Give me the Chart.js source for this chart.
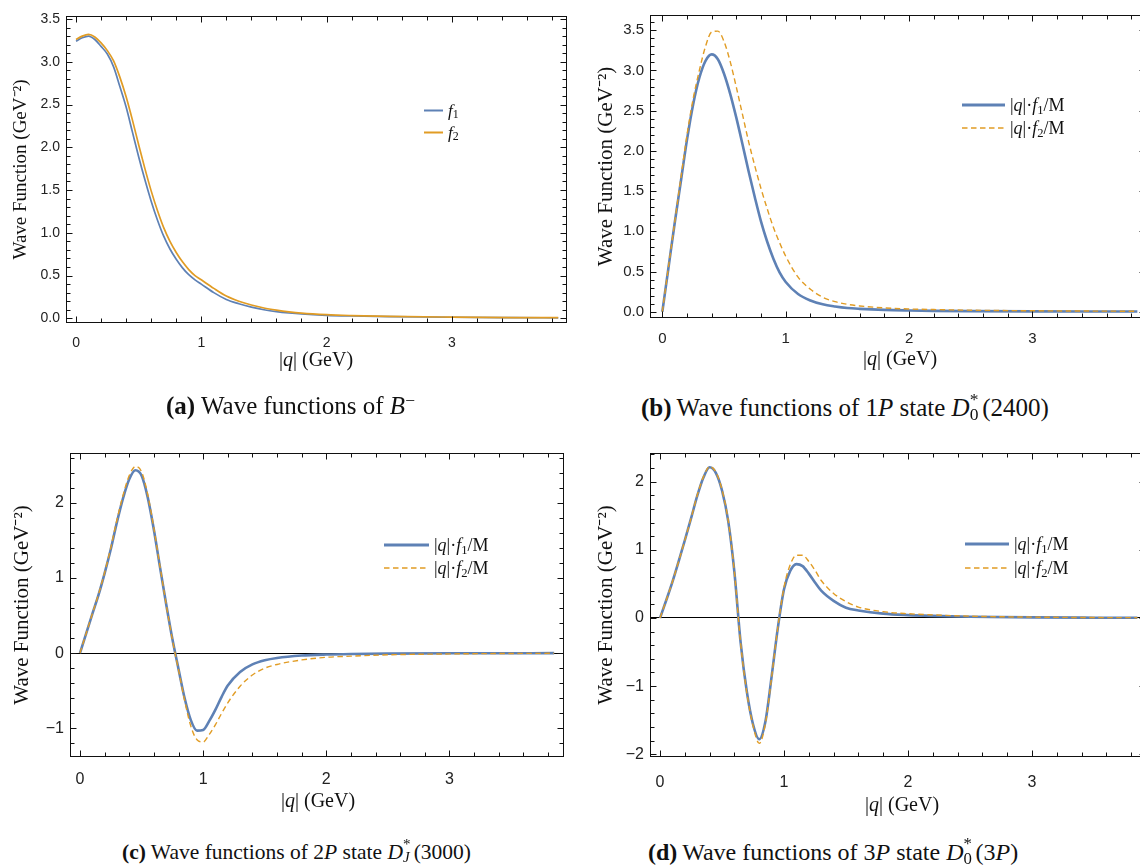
<!DOCTYPE html>
<html>
<head>
<meta charset="utf-8">
<title>Wave functions</title>
<script src="https://cdn.jsdelivr.net/npm/chart.js@4.4.1/dist/chart.umd.min.js"></script>
<style>
  body { margin: 0; background: #fff; }
  #fig { position: relative; width: 1140px; height: 868px; overflow: hidden; background: #fff; }
  #fig canvas { position: absolute; }
  .serif { position: absolute; font-family: 'Liberation Serif', 'Times New Roman', serif; color: #111; white-space: nowrap; line-height: 1; }
  .xt { font-size: 20px; transform: translate(-50%, -50%); }
  .leg { font-size: 18px; display: flex; align-items: center; transform: translateY(-50%); }
  .leg svg { margin-right: 5px; }
  .cap { font-size: 23px; transform: translateY(-50%); }
  .cap b { font-weight: bold; }
  sub, sup { font-size: 0.7em; line-height: 0; }
  sub { vertical-align: -0.25em; }
  sup { vertical-align: 0.45em; }
  .ss { position: relative; display: inline-block; width: 0.5em; height: 1em; }
  .ss span { position: absolute; left: 0; top: 0; font-size: 0.7em; line-height: 1; }
  .ss span.dn { top: 0.88em; }
</style>
</head>
<body>
<div id="fig">
  <canvas id="panelA"></canvas>
  <canvas id="panelB"></canvas>
  <canvas id="panelC"></canvas>
  <canvas id="panelD"></canvas>

  <!-- x axis titles -->
  <div class="serif xt" style="left:316px; top:359px">|<i>q</i>| (GeV)</div>
  <div class="serif xt" style="left:900px; top:358px">|<i>q</i>| (GeV)</div>
  <div class="serif xt" style="left:318px; top:800px">|<i>q</i>| (GeV)</div>
  <div class="serif xt" style="left:902px; top:804px">|<i>q</i>| (GeV)</div>

  <!-- legends -->
  <div class="serif leg" style="left:424px; top:110px; font-size:17px"><svg width="19" height="6"><line x1="0" y1="3" x2="19" y2="3" stroke="#5e81b5" stroke-width="2"/></svg><span><i>f</i><sub>1</sub></span></div>
  <div class="serif leg" style="left:424px; top:132px; font-size:17px"><svg width="19" height="6"><line x1="0" y1="3" x2="19" y2="3" stroke="#e19c24" stroke-width="2"/></svg><span><i>f</i><sub>2</sub></span></div>

  <div class="serif leg" style="left:962px; top:105px"><svg width="43" height="6"><line x1="0" y1="3" x2="43" y2="3" stroke="#5e81b5" stroke-width="3"/></svg><span>|<i>q</i>|·<i>f</i><sub>1</sub>/M</span></div>
  <div class="serif leg" style="left:962px; top:128px"><svg width="43" height="6"><line x1="0" y1="3" x2="43" y2="3" stroke="#e19c24" stroke-width="1.4" stroke-dasharray="5.5 3.5"/></svg><span>|<i>q</i>|·<i>f</i><sub>2</sub>/M</span></div>

  <div class="serif leg" style="left:384px; top:545px"><svg width="45" height="6"><line x1="0" y1="3" x2="45" y2="3" stroke="#5e81b5" stroke-width="3"/></svg><span>|<i>q</i>|·<i>f</i><sub>1</sub>/M</span></div>
  <div class="serif leg" style="left:384px; top:568px"><svg width="45" height="6"><line x1="0" y1="3" x2="45" y2="3" stroke="#e19c24" stroke-width="1.4" stroke-dasharray="5.5 3.5"/></svg><span>|<i>q</i>|·<i>f</i><sub>2</sub>/M</span></div>

  <div class="serif leg" style="left:965px; top:544px"><svg width="44" height="6"><line x1="0" y1="3" x2="44" y2="3" stroke="#5e81b5" stroke-width="3"/></svg><span>|<i>q</i>|·<i>f</i><sub>1</sub>/M</span></div>
  <div class="serif leg" style="left:965px; top:568px"><svg width="44" height="6"><line x1="0" y1="3" x2="44" y2="3" stroke="#e19c24" stroke-width="1.4" stroke-dasharray="5.5 3.5"/></svg><span>|<i>q</i>|·<i>f</i><sub>2</sub>/M</span></div>

  <!-- captions -->
  <div class="serif cap" style="left:166px; top:405px; font-size:25px"><b>(a)</b> Wave functions of <i>B</i><sup>−</sup></div>
  <div class="serif cap" style="left:641px; top:405px; font-size:25px"><b>(b)</b>&thinsp;Wave functions of 1<i>P</i> state <i>D</i><span class="ss"><span>*</span><span class="dn">0</span></span>(2400)</div>
  <div class="serif cap" style="left:122px; top:850px; font-size:21.5px"><b>(c)</b> Wave functions of 2<i>P</i> state <i>D</i><span class="ss"><span>*</span><span class="dn"><i>J</i></span></span>(3000)</div>
  <div class="serif cap" style="left:648px; top:850px; font-size:24px"><b>(d)</b>&thinsp;Wave functions of 3<i>P</i> state <i>D</i><span class="ss"><span>*</span><span class="dn">0</span></span>(3<i>P</i>)</div>
</div>

<script>
// |q| in GeV, wave functions in GeV^-2

// (a) B meson
const qA  = [0, 0.05, 0.1, 0.15, 0.2, 0.25, 0.3, 0.35, 0.4, 0.45, 0.5, 0.55, 0.6, 0.65, 0.7, 0.75, 0.8, 0.85, 0.9, 0.95, 1.0, 1.1, 1.2, 1.3, 1.4, 1.5, 1.6, 1.7, 1.8, 2.0, 2.2, 2.5, 3.0, 3.5, 3.85];
const f1A = [3.24, 3.28, 3.30, 3.26, 3.18, 3.09, 2.94, 2.71, 2.47, 2.18, 1.89, 1.62, 1.37, 1.15, 0.96, 0.81, 0.69, 0.59, 0.51, 0.45, 0.40, 0.30, 0.22, 0.17, 0.13, 0.10, 0.078, 0.062, 0.05, 0.035, 0.027, 0.019, 0.012, 0.008, 0.006];
const f2A = [3.26, 3.30, 3.32, 3.29, 3.22, 3.13, 3.01, 2.82, 2.59, 2.32, 2.03, 1.75, 1.49, 1.26, 1.06, 0.90, 0.77, 0.66, 0.57, 0.50, 0.45, 0.35, 0.26, 0.20, 0.155, 0.12, 0.095, 0.075, 0.06, 0.042, 0.032, 0.022, 0.014, 0.009, 0.007];

// (b) 1P state
const qB  = [0, 0.05, 0.1, 0.15, 0.2, 0.25, 0.3, 0.35, 0.4, 0.45, 0.5, 0.55, 0.6, 0.65, 0.7, 0.75, 0.8, 0.85, 0.9, 0.95, 1.0, 1.1, 1.2, 1.3, 1.4, 1.5, 1.6, 1.8, 2.0, 2.2, 2.5, 3.0, 3.5, 3.85];
const f1B = [0, 0.55, 1.10, 1.62, 2.14, 2.58, 2.91, 3.12, 3.20, 3.14, 2.96, 2.71, 2.41, 2.08, 1.74, 1.42, 1.12, 0.87, 0.66, 0.49, 0.37, 0.22, 0.14, 0.092, 0.065, 0.046, 0.036, 0.023, 0.016, 0.011, 0.007, 0.004, 0.003, 0.002];
const f2B = [0, 0.56, 1.11, 1.66, 2.20, 2.65, 3.00, 3.30, 3.48, 3.49, 3.36, 3.11, 2.79, 2.45, 2.11, 1.81, 1.53, 1.28, 1.05, 0.86, 0.69, 0.43, 0.28, 0.18, 0.125, 0.092, 0.072, 0.047, 0.034, 0.027, 0.019, 0.012, 0.008, 0.006];

// (c) 2P state
const qC  = [0, 0.05, 0.1, 0.15, 0.2, 0.25, 0.3, 0.35, 0.4, 0.45, 0.5, 0.55, 0.6, 0.65, 0.7, 0.75, 0.8, 0.85, 0.9, 0.95, 1.0, 1.05, 1.1, 1.15, 1.2, 1.3, 1.4, 1.5, 1.6, 1.8, 2.0, 2.2, 2.5, 3.0, 3.5, 3.85];
const f1C = [0, 0.26, 0.52, 0.77, 1.06, 1.38, 1.74, 2.06, 2.31, 2.43, 2.36, 2.07, 1.64, 1.14, 0.65, 0.19, -0.21, -0.60, -0.89, -1.03, -1.02, -0.90, -0.75, -0.58, -0.43, -0.25, -0.15, -0.095, -0.064, -0.032, -0.018, -0.011, -0.006, -0.002, -0.001, 0];
const f2C = [0, 0.26, 0.52, 0.78, 1.07, 1.40, 1.77, 2.10, 2.36, 2.48, 2.41, 2.11, 1.66, 1.15, 0.65, 0.18, -0.22, -0.63, -0.97, -1.15, -1.18, -1.08, -0.95, -0.80, -0.66, -0.44, -0.29, -0.20, -0.15, -0.09, -0.055, -0.04, -0.022, -0.01, -0.004, -0.002];

// (d) 3P state
const qD  = [0, 0.05, 0.1, 0.15, 0.2, 0.25, 0.3, 0.35, 0.4, 0.45, 0.5, 0.55, 0.6, 0.65, 0.7, 0.75, 0.8, 0.85, 0.9, 0.95, 1.0, 1.05, 1.1, 1.15, 1.2, 1.25, 1.3, 1.4, 1.5, 1.6, 1.8, 2.0, 2.2, 2.5, 3.0, 3.5, 3.85];
const f1D = [0, 0.26, 0.53, 0.83, 1.14, 1.46, 1.79, 2.06, 2.21, 2.13, 1.87, 1.42, 0.67, -0.36, -1.08, -1.56, -1.78, -1.52, -0.86, -0.15, 0.42, 0.69, 0.79, 0.76, 0.65, 0.52, 0.40, 0.25, 0.15, 0.11, 0.063, 0.042, 0.03, 0.018, 0.008, 0.004, 0.003];
const f2D = [0, 0.26, 0.53, 0.83, 1.14, 1.46, 1.80, 2.07, 2.22, 2.14, 1.88, 1.43, 0.67, -0.37, -1.10, -1.58, -1.84, -1.55, -0.87, -0.14, 0.45, 0.78, 0.92, 0.92, 0.83, 0.70, 0.55, 0.36, 0.24, 0.16, 0.092, 0.062, 0.045, 0.026, 0.012, 0.006, 0.004];

// tick labels
const qTicks = [0, 1, 2, 3];
const yTicksAB = [0, 0.5, 1, 1.5, 2, 2.5, 3, 3.5];
const yTicksC = [-1, 0, 1, 2];
const yTicksD = [-2, -1, 0, 1, 2];

const BLUE = '#5e81b5';
const ORANGE = '#e19c24';

function pts(q, f) {
  return q.map((x, i) => ({ x: x, y: f[i] }));
}

// values from min to max every `minor`, flagged when they fall on a `major` step
function tickSteps(min, max, minor, major) {
  const out = [];
  for (let k = Math.ceil(min / minor - 1e-9); k * minor <= max + 1e-9; k++) {
    const v = k * minor;
    const r = v / major;
    out.push([v, Math.abs(r - Math.round(r)) < 1e-6]);
  }
  return out;
}

// closed frame with inward ticks on all four sides
const frameTicks = {
  id: 'frameTicks',
  afterDraw(chart, args, o) {
    const { ctx, chartArea: a, scales: { x, y } } = chart;
    const L = Math.round(a.left) + 0.5, R = Math.round(a.right) - 0.5;
    const T = Math.round(a.top) + 0.5, B = Math.round(a.bottom) - 0.5;
    ctx.save();
    ctx.strokeStyle = '#111';
    ctx.lineWidth = 1;
    ctx.strokeRect(L, T, R - L, B - T);
    ctx.beginPath();
    tickSteps(x.min, x.max, o.xMinor, o.xMajor).forEach(([v, major]) => {
      const px = Math.round(x.getPixelForValue(v)) + 0.5;
      const len = major ? 6 : 4;
      ctx.moveTo(px, B); ctx.lineTo(px, B - len);
      ctx.moveTo(px, T); ctx.lineTo(px, T + len);
    });
    tickSteps(y.min, y.max, o.yMinor, o.yMajor).forEach(([v, major]) => {
      const py = Math.round(y.getPixelForValue(v)) + 0.5;
      const len = major ? 6 : 4;
      ctx.moveTo(L, py); ctx.lineTo(L + len, py);
      ctx.moveTo(R, py); ctx.lineTo(R - len, py);
    });
    ctx.stroke();
    ctx.restore();
  }
};

function makePanel(id, cfg) {
  const cv = document.getElementById(id);
  const [left, top, w, h] = cfg.box;
  const [l, t, r, b] = cfg.area;
  cv.width = w;
  cv.height = h;
  cv.style.left = left + 'px';
  cv.style.top = top + 'px';

  const dashed = cfg.dashed;
  return new Chart(cv, {
    type: 'line',
    data: {
      datasets: [
        {
          label: 'f2',
          data: pts(cfg.q, cfg.f2),
          borderColor: ORANGE,
          borderWidth: dashed ? 1.4 : 1.7,
          borderDash: dashed ? [5.5, 3.5] : [],
          order: 0
        },
        {
          label: 'f1',
          data: pts(cfg.q, cfg.f1),
          borderColor: BLUE,
          borderWidth: dashed ? 2.6 : 1.7,
          order: 1
        }
      ]
    },
    options: {
      responsive: false,
      animation: false,
      layout: { padding: { top: t - top, right: left + w - r, bottom: 0, left: 0 } },
      elements: {
        point: { radius: 0 },
        line: { cubicInterpolationMode: 'monotone', borderJoinStyle: 'round', fill: false }
      },
      plugins: {
        legend: { display: false },
        tooltip: { enabled: false },
        frameTicks: cfg.ticks
      },
      scales: {
        x: {
          type: 'linear',
          min: cfg.xr[0],
          max: cfg.xr[1],
          afterFit: s => { s.height = top + h - b; },
          afterBuildTicks: s => { s.ticks = qTicks.map(v => ({ value: v })); },
          grid: { display: false },
          border: { display: false },
          ticks: {
            autoSkip: false,
            maxRotation: 0,
            padding: cfg.xPad,
            color: '#222',
            font: { family: 'Liberation Sans', size: cfg.tickSize },
            callback: v => String(v)
          }
        },
        y: {
          type: 'linear',
          min: cfg.yr[0],
          max: cfg.yr[1],
          afterFit: s => { s.width = l - left; },
          afterBuildTicks: s => { s.ticks = cfg.yTicks.map(v => ({ value: v })); },
          border: { display: false },
          grid: {
            drawTicks: false,
            lineWidth: 1,
            color: c => (cfg.zeroLine && c.tick && c.tick.value === 0) ? '#000' : 'rgba(0,0,0,0)'
          },
          ticks: {
            autoSkip: false,
            padding: 6,
            color: '#222',
            font: { family: 'Liberation Sans', size: cfg.tickSize },
            callback: cfg.yFmt
          },
          title: {
            display: true,
            text: 'Wave Function (GeV⁻²)',
            color: '#111',
            font: { family: 'Liberation Serif', size: cfg.titleSize },
            padding: { top: cfg.titlePad, bottom: 0 }
          }
        }
      }
    },
    plugins: [frameTicks]
  });
}

const oneDecimal = v => v.toFixed(1);
const integer = v => (v < 0 ? '\u2212' + (-v) : String(v));

makePanel('panelA', {
  q: qA, f1: f1A, f2: f2A, dashed: false, zeroLine: false,
  box: [0, 0, 580, 385], area: [66, 16, 567, 323],
  xr: [-0.08, 3.92], yr: [-0.055, 3.535], yTicks: yTicksAB,
  ticks: { xMajor: 1, xMinor: 0.2, yMajor: 0.5, yMinor: 0.1 },
  yFmt: oneDecimal, tickSize: 14, titleSize: 19, titlePad: 10, xPad: 4
});

makePanel('panelB', {
  q: qB, f1: f1B, f2: f2B, dashed: true, zeroLine: false,
  box: [580, 0, 580, 385], area: [650, 13, 1146, 318],
  xr: [-0.1, 3.92], yr: [-0.078, 3.69], yTicks: yTicksAB,
  ticks: { xMajor: 1, xMinor: 0.2, yMajor: 0.5, yMinor: 0.1 },
  yFmt: oneDecimal, tickSize: 15, titleSize: 21, titlePad: 14, xPad: 4
});

makePanel('panelC', {
  q: qC, f1: f1C, f2: f2C, dashed: true, zeroLine: true,
  box: [0, 430, 580, 395], area: [70, 453, 564, 757],
  xr: [-0.081, 3.93], yr: [-1.38, 2.66], yTicks: yTicksC,
  ticks: { xMajor: 1, xMinor: 0.2, yMajor: 1, yMinor: 0.2 },
  yFmt: integer, tickSize: 16, titleSize: 21, titlePad: 10, xPad: 5
});

makePanel('panelD', {
  q: qD, f1: f1D, f2: f2D, dashed: true, zeroLine: true,
  box: [580, 430, 580, 395], area: [650, 453, 1146, 757],
  xr: [-0.081, 3.92], yr: [-2.04, 2.42], yTicks: yTicksD,
  ticks: { xMajor: 1, xMinor: 0.2, yMajor: 1, yMinor: 0.2 },
  yFmt: integer, tickSize: 16, titleSize: 21, titlePad: 14, xPad: 8
});
</script>
</body>
</html>
